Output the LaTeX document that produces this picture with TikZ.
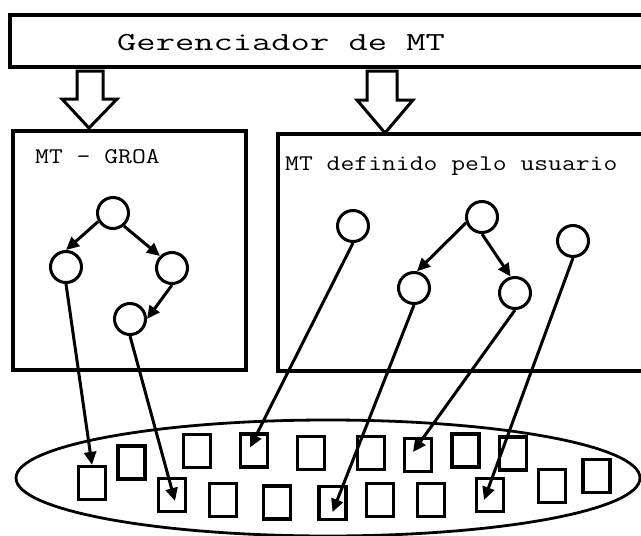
\documentclass[tikz,border=0pt]{standalone}
\usepackage{fontspec}
\usepackage{graphicx}
\newfontfamily\reffont{Latin Modern Mono}
\usetikzlibrary{shapes.geometric,arrows.meta,calc}
\begin{document}
\begin{tikzpicture}[x=1pt,y=-1pt,
  box/.style={draw, line width=3.8pt},
  nd/.style={draw, circle, line width=3pt, minimum size=31pt, inner sep=0pt},
  sq/.style={draw, rectangle, line width=3.2pt, minimum width=27pt, minimum height=33pt, inner sep=0pt},
  link/.style={line width=3pt, -{Triangle[length=13pt,width=12pt]}},
  blk/.style={draw, line width=3pt, line join=miter},
  title/.style={font=\reffont\fontsize{26}{30}\selectfont, inner sep=0pt, anchor=base west},
  lbl/.style={font=\reffont\fontsize{22.4}{26}\selectfont, inner sep=0pt, anchor=base west},
]
\fill[white] (0,0) rectangle (641,536);
\useasboundingbox (0,0) rectangle (641,536);

% manager box
\draw[box] (10,15) rectangle (665,67);
\node[title] (mgr) at (117,50) {\scalebox{1.44}[1]{Gerenciador de MT}};

% block arrows
\draw[blk] (77,71) -- (103,71) -- (103,99) -- (117,99) -- (89,128) -- (62,99) -- (77,99) -- cycle;
\draw[blk] (367,71) -- (397,71) -- (397,100) -- (413,100) -- (385,133) -- (357,100) -- (367,100) -- cycle;

% containers
\draw[box] (13,131) rectangle (246,370);
\draw[box] (278,134) rectangle (665,371);
\node[lbl] (groa) at (35,163) {\scalebox{1.2}[1]{MT - GROA}};
\node[lbl] (user) at (285,170) {\scalebox{1.2}[1]{MT definido pelo usuario}};

% left tree
\node[nd] (gr) at (113,213) {};
\node[nd] (glc) at (66,267) {};
\node[nd] (grc) at (172,268) {};
\node[nd] (ggc) at (130,319) {};
\draw[link] (gr.210) -- (glc.north);
\draw[link] (gr.310) -- (grc.135);
\draw[link] (grc.south) -- (ggc.east);

% right tree
\node[nd] (ua) at (353,226) {};
\node[nd] (ur) at (482,217) {};
\node[nd] (ul) at (414,288) {};
\node[nd] (urr) at (515,293) {};
\node[nd] (ub) at (573,241) {};
\draw[link] (ur.200) -- (ul.80);
\draw[link] (ur.south) -- (urr.105);

% pool
\node[draw, ellipse, line width=2.8pt, minimum width=624pt, minimum height=116pt, inner sep=0pt] (pool) at (328,478) {};

% squares
\node[sq] (s1) at (92,483) {};
\node[sq] (s2) at (131.5,462.5) {};
\node[sq] (s3) at (172,495) {};
\node[sq] (s4) at (197,451) {};
\node[sq] (s5) at (223,500) {};
\node[sq] (s6) at (254,450.5) {};
\node[sq] (s7) at (277,502.5) {};
\node[sq] (s8) at (311,453) {};
\node[sq] (s9) at (332.5,503) {};
\node[sq] (s10) at (371,453) {};
\node[sq] (s11) at (380,500) {};
\node[sq] (s12) at (418,455) {};
\node[sq] (s13) at (431,500) {};
\node[sq] (s14) at (465.5,450.5) {};
\node[sq] (s15) at (490,495) {};
\node[sq] (s16) at (513,453.5) {};
\node[sq] (s17) at (552,486) {};
\node[sq] (s18) at (596.5,476) {};

% links to squares
\draw[link] (glc.south) -- (s1.north);
\draw[link] (ggc.south) -- ($(s3.center)+(3,6)$);
\draw[link] (ua.south) -- ($(s6.center)+(-4,-3)$);
\draw[link] (ul.south) -- ($(s9.center)!0.5!(s9.south)$);
\draw[link] (urr.south) -- ($(s12.center)+(-5,-3)$);
\draw[link] (ub.south) -- ($(s15.center)+(-6,5)$);
\end{tikzpicture}
\end{document}
